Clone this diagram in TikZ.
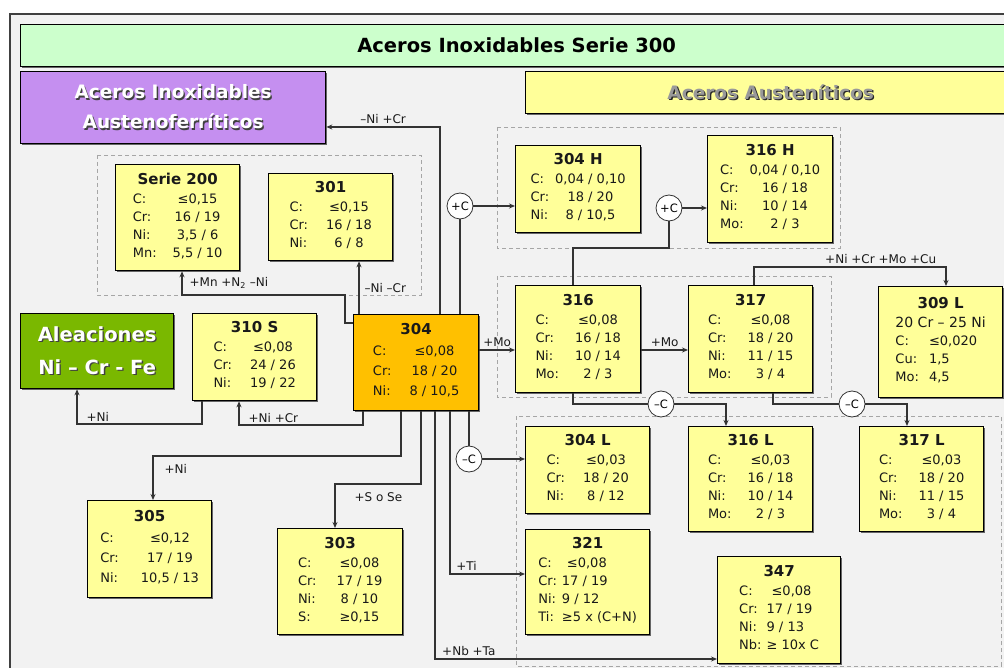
\documentclass[tikz,border=0pt]{standalone}
\usepackage{fontspec}
\setmainfont{DejaVu Sans}
\usetikzlibrary{arrows.meta,shadows}
\definecolor{fondo}{RGB}{242,242,242}
\definecolor{verdeclaro}{RGB}{204,255,204}
\definecolor{lila}{RGB}{197,143,240}
\definecolor{amarillo}{RGB}{255,255,153}
\definecolor{naranja}{RGB}{255,192,0}
\definecolor{verde}{RGB}{122,184,0}
\definecolor{trazo}{RGB}{51,51,51}
\newcommand{\sombra}[2][black!75]{\leavevmode\rlap{\kern1.3pt\raisebox{-1.3pt}{\textcolor{#1}{#2}}}#2}
\newcommand{\tit}[1]{{\fontsize{15}{17}\selectfont\bfseries #1}}
\newcommand{\ficha}[3]{\tit{#1}\\[1pt]\begin{tabular}[t]{#2}#3\end{tabular}}
\tikzset{
  acero/.style={draw=black, line width=1.3pt, fill=amarillo, anchor=north west, align=center,
    inner sep=2pt, font=\fontsize{13}{18}\selectfont, text=black!90,
    drop shadow={shadow xshift=1.5pt, shadow yshift=-1.5pt, fill=black!60, opacity=1}},
  cabecera/.style={draw=black, line width=1.3pt, anchor=north west, align=center,
    font=\fontsize{18.5}{30}\selectfont\bfseries,
    drop shadow={shadow xshift=1.5pt, shadow yshift=-1.5pt, fill=black!60, opacity=1}},
  grupo/.style={draw=gray!70, dash pattern=on 4pt off 3pt, line width=0.8pt},
  paso/.style={circle, draw=black!80, fill=white, line width=0.8pt, minimum size=26pt,
    inner sep=0pt, font=\fontsize{11.5}{12}\selectfont},
  linea/.style={draw=trazo, line width=1.2pt},
  flecha/.style={linea, -{Stealth[length=6pt,width=5pt]}},
  etiq/.style={font=\fontsize{12}{12}\selectfont, text=black!90, inner sep=1pt}
}
\begin{document}
\begin{tikzpicture}[x=1pt,y=-1pt]
  \useasboundingbox (0,0) rectangle (1004,668);
  \clip (0,0) rectangle (1004,668);
  \draw[draw=black!75, line width=1.3pt, fill=fondo] (10,14) rectangle (1012,680);

  \draw[grupo] (97,155) rectangle (421,295);
  \draw[grupo] (497,127) rectangle (840,248);
  \draw[grupo] (497,276) rectangle (831,397);
  \draw[grupo] (516,416) rectangle (1001,666);

  \node[cabecera, fill=verdeclaro, minimum width=992pt, minimum height=42pt, font=\fontsize{19.5}{24}\selectfont\bfseries] (titulo) at (20,24) {Aceros Inoxidables Serie 300};
  \node[cabecera, fill=lila, text=white, minimum width=305pt, minimum height=72pt] (austenofer) at (20,71) {\sombra{Aceros Inoxidables}\\\sombra{Austenoferríticos}};
  \node[cabecera, fill=amarillo, text=black!40, minimum width=490pt, minimum height=42pt] (austeniticos) at (525,71) {\sombra[black!85]{Aceros Austeníticos}};
  \node[cabecera, fill=verde, text=white, minimum width=153pt, minimum height=75pt, font=\fontsize{19.5}{33}\selectfont\bfseries] (aleaciones) at (20,313) {\sombra{Aleaciones}\\\sombra{Ni – Cr - Fe}};

  \node[acero, minimum width=124pt, minimum height=106pt] (s200) at (115,164) {\ficha{Serie 200}{@{}l@{\hspace{16pt}}c@{}}{C: & ≤0,15\\ Cr: & 16 / 19\\ Ni: & 3,5 / 6\\ Mn: & 5,5 / 10}};
  \node[acero, minimum width=124pt, minimum height=87pt] (s301) at (268,173) {\ficha{301}{@{}l@{\hspace{18pt}}c@{}}{C: & ≤0,15\\ Cr: & 16 / 18\\ Ni: & 6 / 8}};
  \node[acero, minimum width=125pt, minimum height=87pt] (s304h) at (515,145) {\ficha{304 H}{@{}l@{\hspace{6pt}}c@{}}{C: & 0,04 / 0,10\\ Cr: & 18 / 20\\ Ni: & 8 / 10,5}};
  \node[acero, minimum width=125pt, minimum height=107pt] (s316h) at (707,135) {\ficha{316 H}{@{}l@{\hspace{6pt}}c@{}}{C: & 0,04 / 0,10\\ Cr: & 16 / 18\\ Ni: & 10 / 14\\ Mo: & 2 / 3}};
  \node[acero, minimum width=124pt, minimum height=87pt] (s310s) at (192,313) {\ficha{310 S}{@{}l@{\hspace{18pt}}c@{}}{C: & ≤0,08\\ Cr: & 24 / 26\\ Ni: & 19 / 22}};
  \node[acero, fill=naranja, minimum width=125pt, minimum height=96pt, font=\fontsize{13}{20}\selectfont] (s304) at (353,314) {\ficha{304}{@{}l@{\hspace{18pt}}c@{}}{C: & ≤0,08\\ Cr: & 18 / 20\\ Ni: & 8 / 10,5}};
  \node[acero, minimum width=125pt, minimum height=107pt] (s316) at (515,285) {\ficha{316}{@{}l@{\hspace{16pt}}c@{}}{C: & ≤0,08\\ Cr: & 16 / 18\\ Ni: & 10 / 14\\ Mo: & 2 / 3}};
  \node[acero, minimum width=124pt, minimum height=107pt] (s317) at (688,285) {\ficha{317}{@{}l@{\hspace{16pt}}c@{}}{C: & ≤0,08\\ Cr: & 18 / 20\\ Ni: & 11 / 15\\ Mo: & 3 / 4}};
  \node[acero, minimum width=124pt, minimum height=111pt] (s309l) at (878,286) {\ficha{309 L}{@{}l@{\hspace{10pt}}l@{}}{\multicolumn{2}{@{}c@{}}{\fontsize{14}{18}\selectfont 20 Cr – 25 Ni}\\ C: & ≤0,020\\ Cu: & 1,5\\ Mo: & 4,5}};
  \node[acero, minimum width=124pt, minimum height=87pt] (s304l) at (525,426) {\ficha{304 L}{@{}l@{\hspace{18pt}}c@{}}{C: & ≤0,03\\ Cr: & 18 / 20\\ Ni: & 8 / 12}};
  \node[acero, minimum width=124pt, minimum height=105pt] (s316l) at (688,426) {\ficha{316 L}{@{}l@{\hspace{16pt}}c@{}}{C: & ≤0,03\\ Cr: & 16 / 18\\ Ni: & 10 / 14\\ Mo: & 2 / 3}};
  \node[acero, minimum width=124pt, minimum height=105pt] (s317l) at (859,426) {\ficha{317 L}{@{}l@{\hspace{16pt}}c@{}}{C: & ≤0,03\\ Cr: & 18 / 20\\ Ni: & 11 / 15\\ Mo: & 3 / 4}};
  \node[acero, minimum width=124pt, minimum height=105pt] (s321) at (525,529) {\ficha{321}{@{}l@{\hspace{5pt}}l@{}}{C: & \hspace{5pt}≤0,08\\ Cr: & 17 / 19\\ Ni: & 9 / 12\\ Ti: & ≥5 x (C+N)}};
  \node[acero, minimum width=123pt, minimum height=107pt] (s347) at (717,556) {\ficha{347}{@{}l@{\hspace{5pt}}l@{}}{C: & \hspace{5pt}≤0,08\\ Cr: & 17 / 19\\ Ni: & 9 / 13\\ Nb: & ≥ 10x C}};
  \node[acero, minimum width=124pt, minimum height=97pt, font=\fontsize{13}{20}\selectfont] (s305) at (87,500) {\ficha{305}{@{}l@{\hspace{22pt}}c@{}}{C: & ≤0,12\\ Cr: & 17 / 19\\ Ni: & 10,5 / 13}};
  \node[acero, minimum width=125pt, minimum height=106pt] (s303) at (277,528) {\ficha{303}{@{}l@{\hspace{20pt}}c@{}}{C: & ≤0,08\\ Cr: & 17 / 19\\ Ni: & 8 / 10\\ S: & ≥0,15}};

  \node[paso] (mas1) at (460,206) {+C};
  \node[paso] (mas2) at (669,208) {+C};
  \node[paso] (menos1) at (469,459) {–C};
  \node[paso] (menos2) at (661,404) {–C};
  \node[paso] (menos3) at (852,404) {–C};

  \draw[flecha] (s304.north -| 440,0) |- (austenofer.east |- 0,127) node[etiq, pos=0.75, above=2pt] (lNiCr) {–Ni +Cr};
  \draw[flecha] (s304.west |- 0,323) -- (345,323) |- (182,295) -- (182,0 |- s200.south) node[etiq, pos=0.5, right=6pt] (lMnN) {+Mn +N\textsubscript{2} –Ni};
  \draw[flecha] (s304.north -| 359,0) -- (359,0 |- s301.south) node[etiq, pos=0.5, right=4pt] (lNiCrm) {–Ni –Cr};
  \draw[linea] (s304.north -| 460,0) -- (mas1.south);
  \draw[flecha] (mas1.east) -- (mas1.east -| s304h.west);
  \draw[linea] (s316.north -| 573,0) |- (669,248) -- (mas2.south);
  \draw[flecha] (mas2.east) -- (mas2.east -| s316h.west);
  \draw[flecha] (s304.east |- 0,350) -- (s316.west |- 0,350) node[etiq, midway, above=2pt] (lMo1) {+Mo};
  \draw[flecha] (s316.east |- 0,350) -- (s317.west |- 0,350) node[etiq, midway, above=2pt] (lMo2) {+Mo};
  \draw[flecha] (s317.north -| 754,0) |- (946,267) node[etiq, pos=0.83, above=2pt] (lCu) {+Ni +Cr +Mo +Cu} -- (946,0 |- s309l.north);
  \draw[linea] (s316.south -| 573,0) |- (menos2.west);
  \draw[flecha] (menos2.east) -| (726,0 |- s316l.north);
  \draw[linea] (s317.south -| 773,0) |- (menos3.west);
  \draw[flecha] (menos3.east) -| (907,0 |- s317l.north);
  \draw[linea] (s304.south -| 469,0) -- (menos1.north);
  \draw[flecha] (menos1.east) -- (menos1.east -| s304l.west);
  \draw[flecha] (s304.south -| 363,0) |- (239,425) -- (239,0 |- s310s.south) node[etiq, pos=0.3, right=8pt] (lNiCr2) {+Ni +Cr};
  \draw[flecha] (s310s.south -| 202,0) |- (77,424) -- (77,0 |- aleaciones.south) node[etiq, pos=0.2, right=8pt] (lNi1) {+Ni};
  \draw[flecha] (s304.south -| 401,0) |- (153,456) -- (153,0 |- s305.north) node[etiq, pos=0.3, right=10pt] (lNi2) {+Ni};
  \draw[flecha] (s304.south -| 421,0) |- (335,484) -- (335,0 |- s303.north) node[etiq, pos=0.3, right=18pt] (lS) {+S o Se};
  \draw[flecha] (s304.south -| 450,0) |- (s321.west |- 0,574) node[etiq, pos=0.61, above=2pt] (lTi) {+Ti};
  \draw[flecha] (s304.south -| 435,0) |- (s347.west |- 0,659) node[etiq, pos=0.56, above=2pt] (lNb) {+Nb +Ta};
\end{tikzpicture}
\end{document}
